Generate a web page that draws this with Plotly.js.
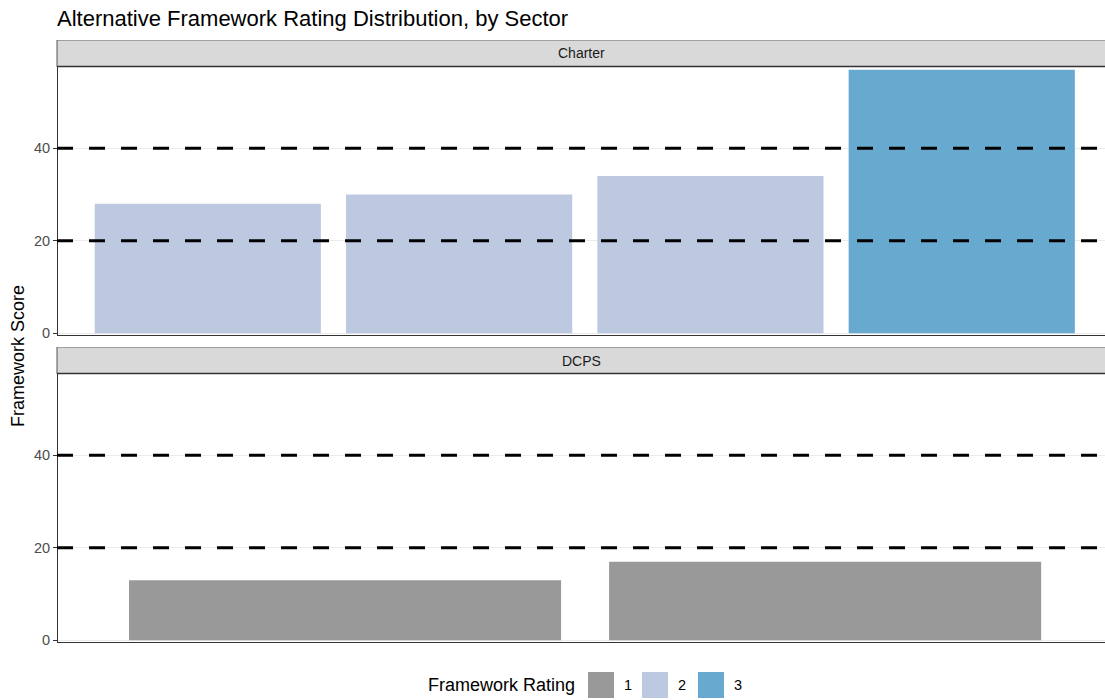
<!DOCTYPE html>
<html>
<head>
<meta charset="utf-8">
<script src="https://cdn.plot.ly/plotly-3.0.1.min.js"></script>
<style>html,body{margin:0;padding:0;background:#fff;}#chart{width:1105px;height:700px;}</style>
</head>
<body>
<div id="chart"></div>
<script>
// ---- data ----
const charterCategories = ["C1", "C2", "C3", "C4"];
const charterScores = [28, 30, 34, 57];
const charterRatings = ["2", "2", "2", "3"];
const dcpsCategories = ["D1", "D2"];
const dcpsScores = [13, 17];
const dcpsRatings = ["1", "1"];
const panelNames = ["Charter", "DCPS"];
const ratingLevels = ["1", "2", "3"];
const ratingColors = {"1": "#999999", "2": "#bdc9e1", "3": "#67a9cf"};
const thresholds = [20, 40];
const yTicks = [0, 20, 40];

// ---- geometry ----
const W = 1105, H = 700;
const px = v => v / W;
const py = v => 1 - v / H;
const xLeft = px(57);
const topDom = [py(334.5), py(67)];
const botDom = [py(641.5), py(374)];
const yRange = [-0.25, 57.57];
const font = "Liberation Sans, Arial, sans-serif";

const traces = [
  {type: "bar", x: charterCategories, y: charterScores, xaxis: "x", yaxis: "y",
   marker: {color: charterRatings.map(r => ratingColors[r]), line: {width: 0}},
   width: 0.9, showlegend: false, hoverinfo: "y"},
  {type: "bar", x: dcpsCategories, y: dcpsScores, xaxis: "x2", yaxis: "y2",
   marker: {color: dcpsRatings.map(r => ratingColors[r]), line: {width: 0}},
   width: 0.9, showlegend: false, hoverinfo: "y"}
];

const yaxisBase = {
  range: yRange, tickvals: yTicks, ticktext: yTicks.map(String),
  showgrid: true, gridcolor: "#ebebeb", gridwidth: 1.2,
  showline: true, linecolor: "#333333", linewidth: 1,
  ticks: "outside", ticklen: 4, tickwidth: 1, tickcolor: "#333333",
  tickfont: {family: font, size: 14.5, color: "#4d4d4d"},
  zeroline: false, fixedrange: true, anchor: "free", position: xLeft
};
const xaxisBase = {
  showticklabels: false, ticks: "", showgrid: false, zeroline: false,
  showline: true, linecolor: "#333333", linewidth: 1, fixedrange: true,
  type: "category", domain: [xLeft, 1]
};

const shapes = [];
const annotations = [];

// threshold dashed lines
[["y", topDom], ["y2", botDom]].forEach(([yr]) => {
  thresholds.forEach(t => {
    shapes.push({type: "line", xref: "paper", yref: yr, x0: xLeft, x1: 1, y0: t, y1: t,
      line: {color: "#000000", width: 3, dash: "16px,16px"}, layer: "above"});
  });
});

// facet strips
[[topDom, 40, 67], [botDom, 347, 374]].forEach(([dom, t, b], i) => {
  shapes.push({type: "rect", xref: "paper", yref: "paper", x0: xLeft, x1: 1, y0: py(b), y1: py(t),
    fillcolor: "#d9d9d9", line: {width: 0}, layer: "above"});
  shapes.push({type: "line", xref: "paper", yref: "paper", x0: xLeft, x1: 1, y0: py(t + 0.5), y1: py(t + 0.5),
    line: {color: "#a0a0a0", width: 1}});
  shapes.push({type: "line", xref: "paper", yref: "paper", x0: xLeft, x1: 1, y0: py(b - 0.5), y1: py(b - 0.5),
    line: {color: "#333333", width: 1.5}});
  shapes.push({type: "line", xref: "paper", yref: "paper", x0: xLeft, x1: xLeft, y0: py(b), y1: py(t),
    line: {color: "#555555", width: 1}});
  annotations.push({xref: "paper", yref: "paper", x: (xLeft + 1) / 2, y: py((t + b) / 2),
    text: panelNames[i], showarrow: false, xanchor: "center", yanchor: "middle",
    font: {family: font, size: 14, color: "#1a1a1a"}});
});

// y axis title
annotations.push({xref: "paper", yref: "paper", x: px(18), y: py(356), text: "Framework Score",
  textangle: -90, showarrow: false, xanchor: "center", yanchor: "middle",
  font: {family: font, size: 18, color: "#000000"}});

// legend (manual)
annotations.push({xref: "paper", yref: "paper", x: px(577), y: py(685), text: "Framework Rating",
  showarrow: false, xanchor: "right", yanchor: "middle",
  font: {family: font, size: 18, color: "#000000"}});
const swX = [588, 642, 698];
ratingLevels.forEach((r, i) => {
  shapes.push({type: "rect", xref: "paper", yref: "paper", x0: px(swX[i]), x1: px(swX[i] + 26),
    y0: py(698), y1: py(672), fillcolor: ratingColors[r], line: {width: 0}});
  annotations.push({xref: "paper", yref: "paper", x: px(swX[i] + 34), y: py(685), text: r,
    showarrow: false, xanchor: "left", yanchor: "middle",
    font: {family: font, size: 14.5, color: "#000000"}});
});

const layout = {
  width: W, height: H,
  margin: {l: 0, r: 0, t: 0, b: 0},
  paper_bgcolor: "#ffffff", plot_bgcolor: "#ffffff",
  title: {text: "Alternative Framework Rating Distribution, by Sector",
    x: xLeft, xref: "paper", xanchor: "left", y: py(18), yref: "paper", yanchor: "middle",
    font: {family: font, size: 22, color: "#000000"}},
  xaxis: Object.assign({}, xaxisBase, {anchor: "y", range: [-0.6, 3.57]}),
  xaxis2: Object.assign({}, xaxisBase, {anchor: "y2", range: [-0.6, 1.583]}),
  yaxis: Object.assign({}, yaxisBase, {domain: topDom}),
  yaxis2: Object.assign({}, yaxisBase, {domain: botDom}),
  shapes: shapes, annotations: annotations,
  showlegend: false, bargap: 0.1
};

Plotly.newPlot("chart", traces, layout, {displayModeBar: false, staticPlot: true});
</script>
</body>
</html>
